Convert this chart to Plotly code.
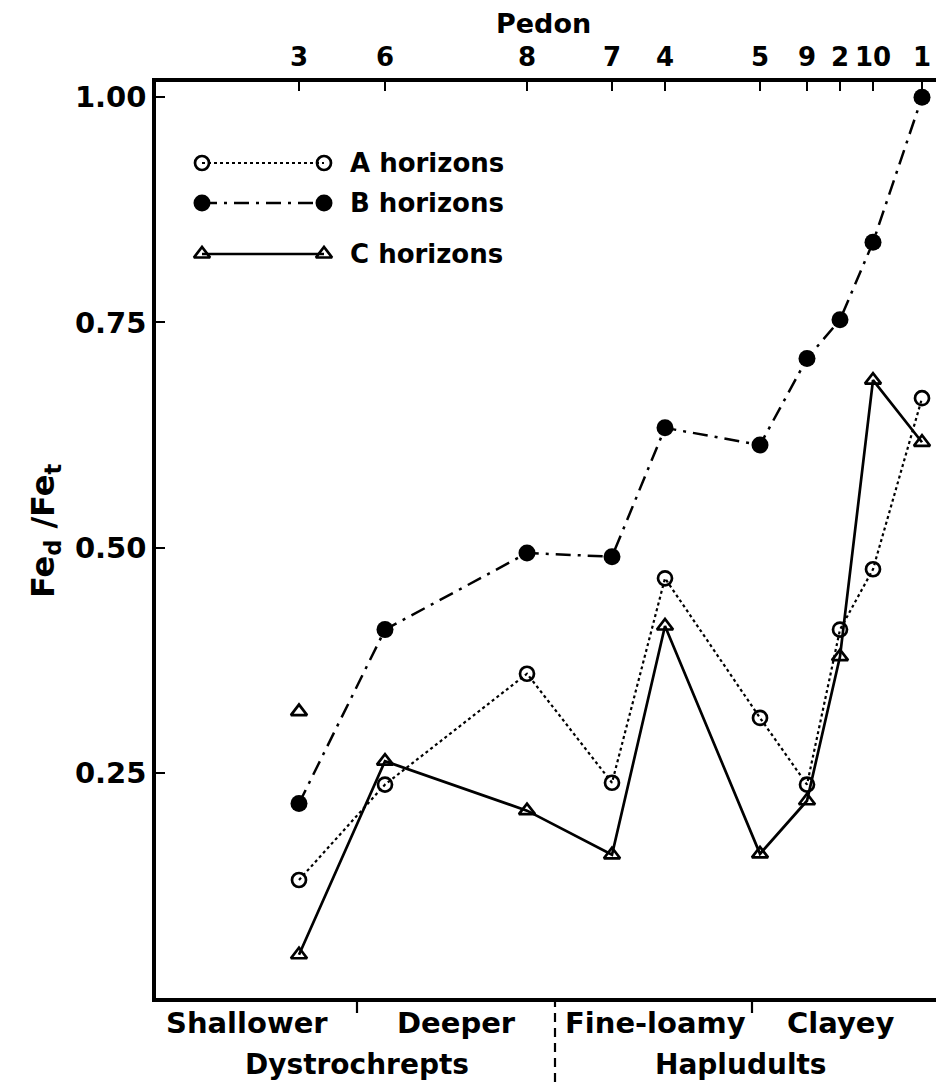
import plotly.graph_objects as go

# ---------------- data ----------------
pedons = ["3", "6", "8", "7", "4", "5", "9", "2", "10", "1"]
pedon_pos = [143, 229, 371, 456, 509, 604, 651, 684, 717, 766]   # position along the pedon axis
a_hor = [0.131, 0.237, 0.360, 0.239, 0.466, 0.311, 0.237, 0.409, 0.476, 0.666]
b_hor = [0.216, 0.409, 0.494, 0.490, 0.633, 0.614, 0.710, 0.753, 0.839, 1.000]
c_hor = [0.048, 0.263, 0.208, 0.159, 0.413, 0.160, 0.219, 0.379, 0.686, 0.617]
c_extra_pos = [143]          # second C horizon of pedon 3 (unconnected)
c_extra = [0.318]

y_ticks = [0.25, 0.50, 0.75, 1.00]
y_ticklabels = ["0.25", "0.50", "0.75", "1.00"]

groups = ["Shallower", "Deeper", "Fine-loamy", "Clayey"]
group_pos = [91, 300, 499, 684]
group_bounds = [201, 596]
orders = ["Dystrochrepts", "Hapludults"]
order_pos = [201, 585]
order_divider = [399]

series_names = ["A horizons", "B horizons", "C horizons"]

FONT = "DejaVu Sans"
X_RANGE = [0, 788]
Y_RANGE = [0, 1.017]

# page body has an 8px margin -> size figure to fit the 944x1091 window
W, H = 936, 1075
L, R, T, B = 148, 0, 74, 85
PH = H - T - B          # plot height in px (916)
PW = W - L - R          # plot width in px (788)


def py_paper(page_y):
    """page pixel row -> paper fraction"""
    return (998 - page_y) / PH


def px_paper(page_x):
    return (page_x - 156) / PW


fig = go.Figure()

a_line = dict(color="black", width=2.2, dash="dot")
a_mark = dict(symbol="circle-open", size=14, color="black", line=dict(width=2.7))
b_line = dict(color="black", width=2.5, dash="15px,7px,3px,7px")
b_mark = dict(symbol="circle", size=17, color="black")
c_line = dict(color="black", width=2.7)
c_mark = dict(symbol="triangle-up-open", size=14, color="black", line=dict(width=2.7))

fig.add_trace(go.Scatter(x=pedon_pos, y=a_hor, mode="lines+markers", name=series_names[0],
                         line=a_line, marker=a_mark, showlegend=False))
fig.add_trace(go.Scatter(x=pedon_pos, y=b_hor, mode="lines+markers", name=series_names[1],
                         line=b_line, marker=b_mark, showlegend=False))
fig.add_trace(go.Scatter(x=pedon_pos, y=c_hor, mode="lines+markers", name=series_names[2],
                         line=c_line, marker=c_mark, showlegend=False))
fig.add_trace(go.Scatter(x=c_extra_pos, y=c_extra, mode="markers", name=series_names[2],
                         marker=c_mark, showlegend=False))

# ---------------- manual legend (hidden helper axes, paper-like 0..1) ----------------
leg_rows = [py_paper(163), py_paper(203), py_paper(254)]
leg_x0, leg_x1, leg_tx = px_paper(202), px_paper(324), px_paper(348)
leg_styles = [(a_line, a_mark), (b_line, b_mark), (c_line, c_mark)]
for yv, (ln, mk), nm in zip(leg_rows, leg_styles, series_names):
    fig.add_trace(go.Scatter(x=[leg_x0, leg_x1], y=[yv, yv], mode="lines+markers",
                             line=ln, marker=mk, xaxis="x3", yaxis="y3",
                             showlegend=False, hoverinfo="skip"))
    fig.add_annotation(x=leg_tx, y=yv, xref="x3", yref="y3", text=nm, showarrow=False,
                       xanchor="left", yanchor="middle",
                       font=dict(family=FONT, size=26, color="black", weight="bold"))

# ---------------- bottom category labels ----------------
for t, p in zip(groups, group_pos):
    fig.add_annotation(x=p, y=py_paper(1023), xref="x", yref="paper", text=t,
                       showarrow=False, yanchor="middle",
                       font=dict(family=FONT, size=29, color="black", weight="bold"))
for t, p in zip(orders, order_pos):
    fig.add_annotation(x=p, y=py_paper(1064), xref="x", yref="paper", text=t,
                       showarrow=False, yanchor="middle",
                       font=dict(family=FONT, size=28, color="black", weight="bold"))

# dashed divider between orders
for d in order_divider:
    fig.add_shape(type="line", xref="x", yref="paper", x0=d, x1=d,
                  y0=0, y1=py_paper(1082),
                  line=dict(color="black", width=2.2, dash="9px,6px"))
# group boundary ticks on bottom axis
for bnd in group_bounds:
    fig.add_shape(type="line", xref="x", yref="paper", x0=bnd, x1=bnd,
                  y0=0, y1=py_paper(1013), line=dict(color="black", width=2.2))

# y-axis title
fig.add_annotation(x=px_paper(22), y=py_paper(531), xref="paper", yref="paper",
                   text="Fe<sub>d</sub> /Fe<sub>t</sub>", showarrow=False, textangle=-90,
                   font=dict(family=FONT, size=32, color="black", weight="bold"))
# top axis title
fig.add_annotation(x=px_paper(543), y=py_paper(24), xref="paper", yref="paper",
                   text="Pedon", showarrow=False, yanchor="middle",
                   font=dict(family=FONT, size=27, color="black", weight="bold"))

fig.update_layout(
    width=W, height=H,
    margin=dict(l=L, r=R, t=T, b=B, pad=0),
    paper_bgcolor="white", plot_bgcolor="white",
    font=dict(family=FONT, color="black"),
    showlegend=False,
    xaxis=dict(range=X_RANGE, side="top", tickvals=pedon_pos, ticktext=pedons,
               ticks="inside", ticklen=9, tickwidth=2.4, tickcolor="black",
               showline=True, linecolor="black", linewidth=3.5, mirror=False,
               showgrid=False, zeroline=False, ticklabelstandoff=2,
               tickfont=dict(family=FONT, size=26, color="black", weight="bold")),
    xaxis2=dict(range=X_RANGE, overlaying="x", side="bottom", anchor="y",
                showline=True, linecolor="black", linewidth=3.5,
                showticklabels=False, ticks="", showgrid=False, zeroline=False),
    yaxis=dict(range=Y_RANGE, tickvals=y_ticks, ticktext=y_ticklabels,
               ticks="inside", ticklen=9, tickwidth=2.4, tickcolor="black",
               showline=True, linecolor="black", linewidth=3.5,
               showgrid=False, zeroline=False, ticklabelstandoff=0,
               tickfont=dict(family=FONT, size=29, color="black", weight="bold")),
    yaxis2=dict(range=Y_RANGE, overlaying="y", side="right", anchor="x",
                tickvals=y_ticks, ticks="inside", ticklen=7, tickwidth=2.4,
                tickcolor="black", showticklabels=False, showline=False,
                showgrid=False, zeroline=False),
    xaxis3=dict(range=[0, 1], overlaying="x", visible=False, anchor="y3"),
    yaxis3=dict(range=[0, 1], overlaying="y", visible=False, anchor="x3"),
)

# dummy traces so the overlay axes are drawn
fig.add_trace(go.Scatter(x=[None], y=[None], xaxis="x2", yaxis="y", showlegend=False))
fig.add_trace(go.Scatter(x=[None], y=[None], xaxis="x", yaxis="y2", showlegend=False))

fig.write_html("out.html")
